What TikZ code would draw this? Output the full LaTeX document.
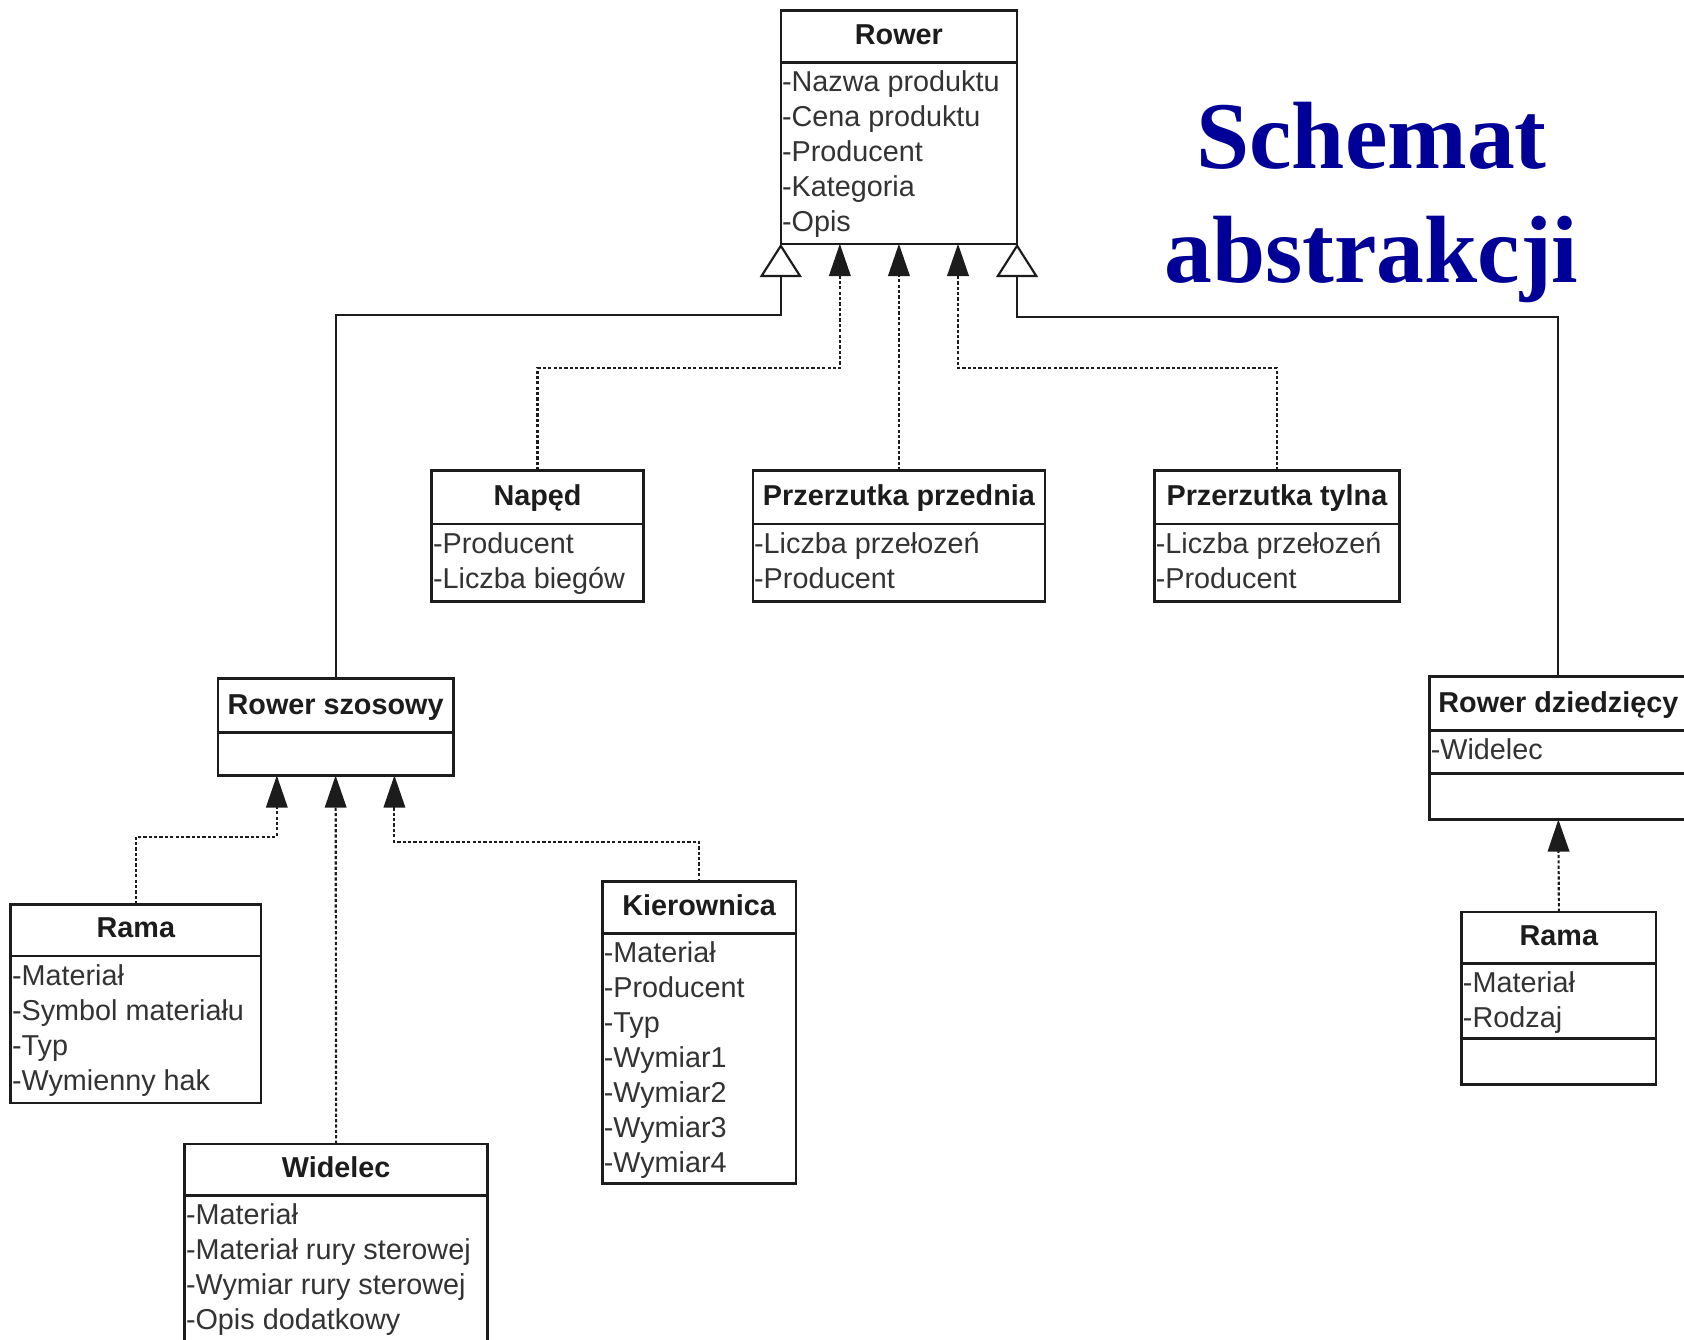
\documentclass[tikz,border=0pt]{standalone}
\usepackage{fontspec}
\setmainfont{Liberation Sans}
\newfontfamily\titlefont{Liberation Serif}
\usetikzlibrary{arrows.meta,calc}

\definecolor{titleblue}{RGB}{0,0,153}
\definecolor{ink}{RGB}{28,28,28}

\tikzset{
  classbox/.style={draw=ink, line width=2.4pt, inner sep=0pt, outer sep=0pt, fill=white},
  divider/.style={draw=ink, line width=2.4pt},
  classtitle/.style={font=\fontsize{26.8}{32}\selectfont\bfseries, text=ink, inner sep=0pt, anchor=base},
  attr/.style={font=\fontsize{26.8}{32}\selectfont, text=ink!90, inner sep=0pt, anchor=base west},
  gen/.style={draw=ink, line width=2pt, -{Triangle[open, width=39pt, length=31pt, line width=2pt]}},
  dep/.style={draw=ink, line width=2pt, dash pattern=on 3pt off 2pt, -{Triangle[width=20pt, length=30pt]}},
  heading/.style={font=\titlefont\fontsize{89}{106}\selectfont\bfseries, text=titleblue, inner sep=0pt, anchor=base},
}

% class box: name, left, top, right, header divider, bottom, class name
\newcommand\umlclass[7]{%
  \node[classbox, anchor=north west, minimum width={(#4)-(#2)}, minimum height={(#6)-(#3)}] (#1) at (#2,#3) {};
  \draw[divider] (#2,#5) -- (#4,#5);
  \node[classtitle] (#1-t) at ({(#2+#4)/2},{#5-17}) {#7};
}
% attribute list: name, left, header divider, items
\newcommand\umlattrs[4]{%
  \foreach \txt [count=\k] in {#4}
    \node[attr] (#1-a\k) at ({#2+1},{#3+32.5*\k-5}) {-\txt};
}

\begin{document}
\begin{tikzpicture}[x=1pt, y=-1pt]
\useasboundingbox (0,0) rectangle (1568,1247);
\fill[white] (0,0) rectangle (1568,1247);
\clip (0,0) rectangle (1568,1247);

% heading
\node[heading] (head1) at (1277,157) {Schemat};
\node[heading] (head2) at (1277,263) {abstrakcji};

% classes
\umlclass{rower}{727}{10}{947}{58}{227}{Rower}
\umlattrs{rower}{727}{58}{Nazwa produktu, Cena produktu, Producent, Kategoria, Opis}

\umlclass{naped}{402}{438}{599}{488}{560}{Napęd}
\umlattrs{naped}{402}{488}{Producent, Liczba biegów}

\umlclass{przod}{701}{438}{973}{488}{560}{Przerzutka przednia}
\umlattrs{przod}{701}{488}{Liczba przełozeń, Producent}

\umlclass{tyl}{1075}{438}{1303}{488}{560}{Przerzutka tylna}
\umlattrs{tyl}{1075}{488}{Liczba przełozeń, Producent}

\umlclass{szosowy}{203}{632}{422}{682}{722}{Rower szosowy}

\umlclass{dziedz}{1331}{630}{1571}{680}{763}{Rower dziedzięcy}
\draw[divider] (1331,720) -- (1571,720);
\umlattrs{dziedz}{1331}{680}{Widelec}

\umlclass{ramaL}{10}{842}{243}{890}{1027}{Rama}
\umlattrs{ramaL}{10}{890}{Materiał, Symbol materiału, Typ, Wymienny hak}

\umlclass{widelec}{172}{1065}{454}{1113}{1262}{Widelec}
\umlattrs{widelec}{172}{1113}{Materiał, Materiał rury sterowej, Wymiar rury sterowej, Opis dodatkowy}

\umlclass{kier}{561}{821}{741}{869}{1102}{Kierownica}
\umlattrs{kier}{561}{869}{Materiał, Producent, Typ, Wymiar1, Wymiar2, Wymiar3, Wymiar4}

\umlclass{ramaR}{1361}{849}{1542}{897}{1010}{Rama}
\draw[divider] (1361,967) -- (1542,967);
\umlattrs{ramaR}{1361}{897}{Materiał, Rodzaj}

% attachment points on the parent boxes
\coordinate (rw1) at ($(rower.south west)!0.25!(rower.south east)$);
\coordinate (rw2) at ($(rower.south west)!0.5!(rower.south east)$);
\coordinate (rw3) at ($(rower.south west)!0.75!(rower.south east)$);
\coordinate (sz1) at ($(szosowy.south west)!0.25!(szosowy.south east)$);
\coordinate (sz2) at ($(szosowy.south west)!0.5!(szosowy.south east)$);
\coordinate (sz3) at ($(szosowy.south west)!0.75!(szosowy.south east)$);

% generalisations
\draw[gen] (szosowy.north) -- ++(0,-339) -| (rower.south west);
\draw[gen] (dziedz.north) -- ++(0,-335) -| (rower.south east);

% dependencies on Rower
\draw[dep] (naped.north) -- ++(0,-95) -| (rw1);
\draw[dep] (przod.north) -- (rw2);
\draw[dep] (tyl.north) -- ++(0,-95) -| (rw3);

% dependencies on Rower szosowy
\draw[dep] (ramaL.north) -- ++(0,-63) -| (sz1);
\draw[dep] (widelec.north) -- (sz2);
\draw[dep] (kier.north) -- ++(0,-37) -| (sz3);

% dependency on Rower dziedzięcy
\draw[dep] (ramaR.north) -- (dziedz.south);
\end{tikzpicture}
\end{document}
